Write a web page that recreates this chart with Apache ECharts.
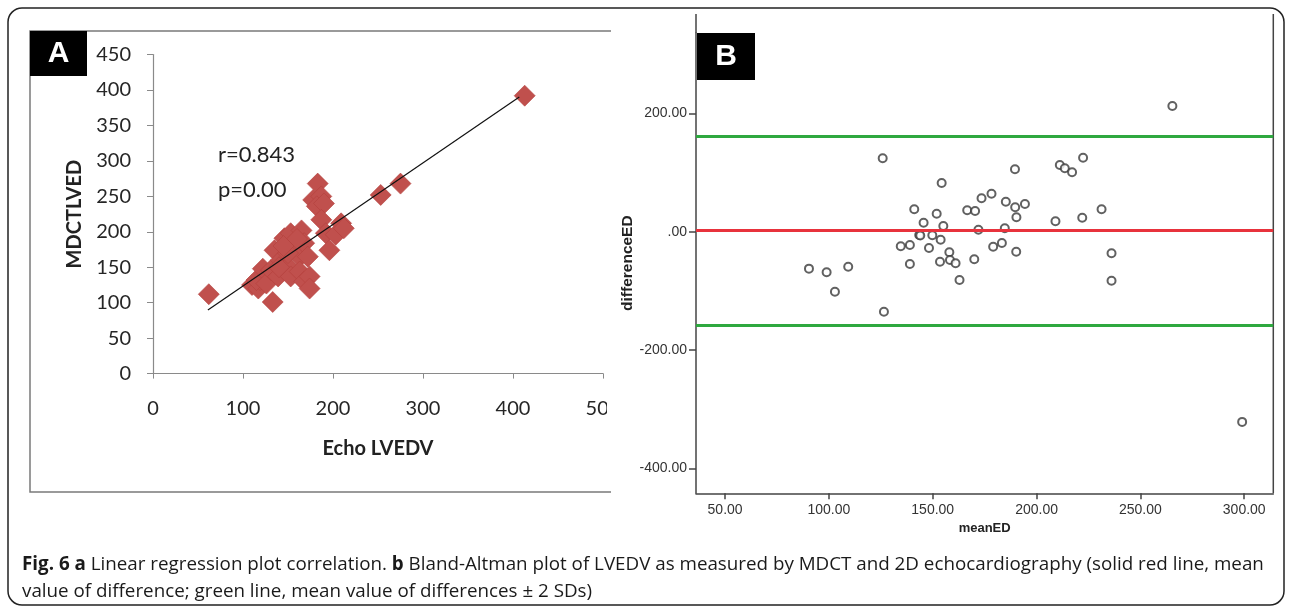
<!DOCTYPE html>
<html>
<head>
<meta charset="utf-8">
<script src="https://cdn.jsdelivr.net/npm/echarts@6/dist/echarts.min.js"></script>
<style>
html,body{margin:0;padding:0;background:#fff;}
#chart{width:1290px;height:609px;}
</style>
</head>
<body>
<div id="chart"></div>
<script>
// Panel A: linear regression (Echo LVEDV vs MDCT LVED)
const aEcho = [62,110,117,119,115,122,126,131,133,135,139,142,146,150,153,153,157,158,163,163,165,168,168,172,174,174,160,150,145,140,178,183,187,182,190,187,192,196,203,209,212,253,275,413];
const aMdct = [112,125,120,132,132,148,127,146,101,174,137,160,191,151,137,198,174,183,165,144,202,184,130,165,137,120,190,170,180,150,245,268,250,236,240,217,198,174,196,212,205,252,268,392];
const regSlope = 0.868;
const regIntercept = 36.8;
const regRange = [61, 407];
const statsText = ['r=0.843', 'p=0.00'];

// Panel B: Bland-Altman
const bMean = [90.4,98.9,109.3,102.9,125.9,126.5,141.1,134.6,139.0,139.0,143.5,144.0,145.6,149.8,148.2,154.3,151.9,155.1,153.8,153.5,158.0,158.3,161.0,162.9,166.6,170.4,170.0,172.0,173.5,178.3,179.1,183.3,185.2,189.6,189.7,190.3,184.7,190.2,194.4,209.1,211.2,213.6,217.1,222.4,222.0,231.3,236.1,236.1,265.4,299.0];
const bDiff = [-62.4,-68.6,-59.1,-101.4,124.0,-135.1,37.8,-24.5,-22.5,-54.6,-5.5,-6.5,15.2,-6.1,-27.5,82.3,30.4,9.6,-13.5,-50.7,-34.8,-47.8,-53.4,-81.6,36.1,35.0,-46.6,3.4,56.4,64.2,-25.3,-19.1,50.7,105.4,41.2,24.3,5.7,-33.8,46.8,17.6,112.7,107.1,100.3,125.0,23.6,37.8,-36.5,-82.8,212.3,-321.3];
const meanDiff = 2.3;
const loaUpper = 161.7;
const loaLower = -157.7;

const aXTicks = [0,100,200,300,400,500];
const aYTicks = [0,50,100,150,200,250,300,350,400,450];
const bXTicks = [50,100,150,200,250,300];
const bYTicks = [-400,-200,0,200];

const caption1 = 'Fig. 6 a';
const caption2 = ' Linear regression plot correlation. ';
const caption3 = 'b';
const caption4 = ' Bland-Altman plot of LVEDV as measured by MDCT and 2D echocardiography (solid red line, mean';
const caption5 = 'value of difference; green line, mean value of differences \u00b1 2 SDs)';

const chart = echarts.init(document.getElementById('chart'));

const fA = 'Lato, "Open Sans", sans-serif';
const fB = '"Liberation Sans Narrow", "Liberation Sans", Arial, sans-serif';
const fBb = '"Liberation Sans", Arial, sans-serif';

const option = {
  animation: false,
  backgroundColor: '#fff',
  grid: [
    {left: 153, top: 54.6, width: 450, height: 319, containLabel: false},
    {left: 696, top: 33, width: 577.3, height: 460.3, containLabel: false}
  ],
  xAxis: [
    {
      gridIndex: 0, type: 'value', min: 0, max: 500, interval: 100,
      name: 'Echo LVEDV', nameLocation: 'middle', nameGap: 65,
      nameTextStyle: {fontFamily: fA, fontWeight: 'bold', fontSize: 20, color: '#222'},
      axisLine: {show: true, onZero: false, lineStyle: {color: '#8a8a8a', width: 1.2}},
      axisTick: {show: true, length: 5, lineStyle: {color: '#8a8a8a'}},
      axisLabel: {margin: 25, fontFamily: fA, fontSize: 20, color: '#262626', customValues: aXTicks},
      splitLine: {show: false}
    },
    {
      gridIndex: 1, type: 'value', min: 36, max: 314,
      name: 'meanED', nameLocation: 'middle', nameGap: 25,
      nameTextStyle: {fontFamily: fBb, fontWeight: 'bold', fontSize: 13, color: '#222'},
      axisLine: {show: true, onZero: false, lineStyle: {color: '#444', width: 1.5}},
      axisTick: {show: true, length: 6, lineStyle: {color: '#444', width: 1.5}, customValues: bXTicks},
      axisLabel: {margin: 10, fontFamily: fB, fontSize: 14, color: '#333', customValues: bXTicks,
        formatter: v => v.toFixed(2)},
      splitLine: {show: false}
    }
  ],
  yAxis: [
    {
      gridIndex: 0, type: 'value', min: 0, max: 450, interval: 50,
      name: 'MDCTLVED', nameLocation: 'middle', nameGap: 68, nameRotate: 90,
      nameTextStyle: {fontFamily: fA, fontWeight: 'bold', fontSize: 20, color: '#222'},
      axisLine: {show: true, onZero: false, lineStyle: {color: '#8a8a8a', width: 1.2}},
      axisTick: {show: true, length: 6, lineStyle: {color: '#8a8a8a'}},
      axisLabel: {margin: 22, fontFamily: fA, fontSize: 20, color: '#262626', customValues: aYTicks},
      splitLine: {show: false}
    },
    {
      gridIndex: 1, type: 'value', min: -441.9, max: 335.6,
      name: 'differenceED', nameLocation: 'middle', nameGap: 58, nameRotate: 90,
      nameTextStyle: {fontFamily: fBb, fontWeight: 'bold', fontSize: 15.5, color: '#222'},
      axisLine: {show: true, onZero: false, lineStyle: {color: '#444', width: 1.5}},
      axisTick: {show: true, length: 7, lineStyle: {color: '#444', width: 1.5}, customValues: bYTicks},
      axisLabel: {margin: 9, fontFamily: fB, fontSize: 14, color: '#333', customValues: bYTicks,
        formatter: v => (v === 0 ? '.00' : v.toFixed(2))},
      splitLine: {show: false}
    }
  ],
  series: [
    {
      type: 'line', xAxisIndex: 0, yAxisIndex: 0, symbol: 'none', silent: true, z: 3,
      lineStyle: {color: '#111', width: 1.2},
      data: regRange.map(x => [x, regSlope * x + regIntercept])
    },
    {
      type: 'scatter', xAxisIndex: 0, yAxisIndex: 0, symbol: 'diamond', symbolSize: 21, z: 2,
      itemStyle: {color: '#c0504d', borderColor: '#b3403d', borderWidth: 0.6, opacity: 1},
      data: aEcho.map((x, i) => [x, aMdct[i]])
    },
    {
      type: 'scatter', xAxisIndex: 1, yAxisIndex: 1, symbol: 'emptyCircle', symbolSize: 8, z: 4,
      itemStyle: {color: '#3a3a3a', borderWidth: 1.5},
      data: bMean.map((x, i) => [x, bDiff[i]]),
      markLine: {
        silent: true, symbol: 'none', label: {show: false}, animation: false,
        data: [
          {yAxis: loaUpper, lineStyle: {color: '#2ea83f', width: 3, type: 'solid'}},
          {yAxis: meanDiff, lineStyle: {color: '#e8323c', width: 3, type: 'solid'}},
          {yAxis: loaLower, lineStyle: {color: '#2ea83f', width: 3, type: 'solid'}}
        ]
      }
    }
  ],
  graphic: [
    {type: 'rect', shape: {x: 8, y: 8, width: 1276, height: 597, r: 14}, style: {fill: 'none', stroke: '#222', lineWidth: 1.5}, z: 0},
    {type: 'polyline', shape: {points: [[611, 31], [30, 31], [30, 492], [611, 492]]}, style: {fill: 'none', stroke: '#7a7a7a', lineWidth: 1.5}, z: 1},
    {type: 'line', shape: {x1: 1273.3, y1: 14, x2: 1273.3, y2: 493.3}, style: {stroke: '#444', lineWidth: 1.5}, z: 5},
    {type: 'line', shape: {x1: 696, y1: 14, x2: 696, y2: 33}, style: {stroke: '#444', lineWidth: 1.5}, z: 5},
    {type: 'rect', shape: {x: 607, y: 395, width: 13, height: 30}, style: {fill: '#fff'}, z: 50},
    {type: 'rect', shape: {x: 30, y: 31, width: 57, height: 45}, style: {fill: '#000'}, z: 60},
    {type: 'text', x: 58.5, y: 54, style: {text: 'A', fill: '#fff', font: 'bold 30px "Liberation Sans", Arial, sans-serif', align: 'center', verticalAlign: 'middle'}, z: 61},
    {type: 'rect', shape: {x: 697, y: 33, width: 58, height: 47}, style: {fill: '#000'}, z: 60},
    {type: 'text', x: 726, y: 57, style: {text: 'B', fill: '#fff', font: 'bold 30px "Liberation Sans", Arial, sans-serif', align: 'center', verticalAlign: 'middle'}, z: 61},
    {type: 'text', x: 218, y: 155, style: {text: statsText[0], fill: '#222', font: '22px Lato, "Open Sans", sans-serif', verticalAlign: 'middle'}, z: 10},
    {type: 'text', x: 218, y: 190, style: {text: statsText[1], fill: '#222', font: '22px Lato, "Open Sans", sans-serif', verticalAlign: 'middle'}, z: 10},
    {type: 'text', x: 22, y: 565, style: {
      text: '{b|' + caption1 + '}{n|' + caption2 + '}{b|' + caption3 + '}{n|' + caption4 + '}',
      verticalAlign: 'middle',
      rich: {
        b: {fontFamily: '"Open Sans", sans-serif', fontWeight: 'bold', fontSize: 18.8, fill: '#1a1a1a'},
        n: {fontFamily: '"Open Sans", sans-serif', fontSize: 18.8, fill: '#1a1a1a'}
      }
    }, z: 10},
    {type: 'text', x: 22, y: 592, style: {text: caption5, fill: '#1a1a1a', font: '18.8px "Open Sans", sans-serif', verticalAlign: 'middle'}, z: 10}
  ]
};
chart.setOption(option);
</script>
</body>
</html>
